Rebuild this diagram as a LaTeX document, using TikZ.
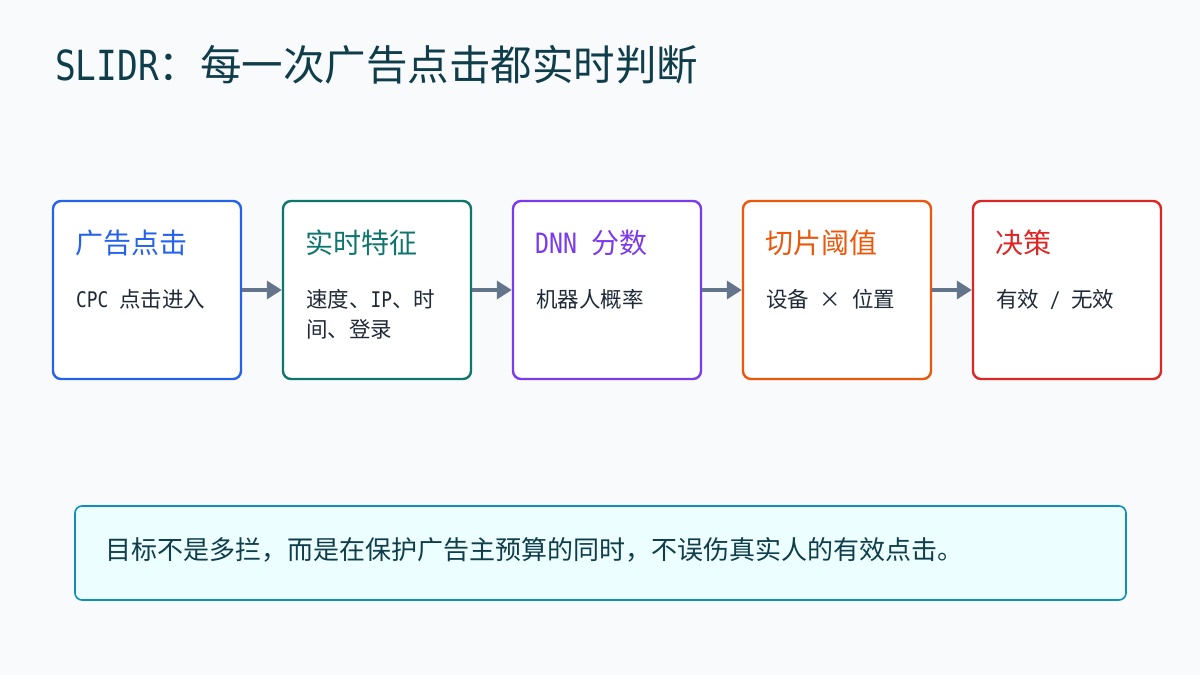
\documentclass[tikz,border=0pt]{standalone}
\usepackage{fontspec}
\setmainfont{Noto Sans CJK SC}
\newfontfamily\lat[FakeStretch=0.83]{DejaVu Sans Mono}
\usetikzlibrary{arrows.meta}
\definecolor{bg}{HTML}{F8FAFC}
\definecolor{titlec}{HTML}{0F3D4A}
\definecolor{bodyc}{HTML}{1F2937}
\definecolor{cblue}{HTML}{2563EB}
\definecolor{cteal}{HTML}{0F766E}
\definecolor{cpurple}{HTML}{7C3AED}
\definecolor{corange}{HTML}{EA580C}
\definecolor{cred}{HTML}{DC2626}
\definecolor{arrowc}{HTML}{64748B}
\definecolor{notefill}{HTML}{ECFEFF}
\definecolor{noteline}{HTML}{0E91B2}
\tikzset{
  card/.style={draw=#1, line width=2.4pt, rounded corners=8pt, fill=white, minimum width=188pt, minimum height=178pt, inner sep=0pt},
  head/.style={anchor=base west, text=#1, font=\fontsize{28}{34}\selectfont, inner sep=0pt},
  bodytxt/.style={anchor=north west, text=bodyc, font=\fontsize{21.5}{30}\selectfont, inner sep=0pt, align=left},
  flow/.style={draw=arrowc, line width=3.5pt, -{Triangle[length=15pt,width=18pt]}},
}
\begin{document}
\begin{tikzpicture}[x=1pt,y=-1pt]
\fill[bg] (0,0) rectangle (1200,675);
\useasboundingbox (0,0) rectangle (1200,675);
\node[anchor=base west, text=titlec, font=\fontsize{41.5}{48}\selectfont, inner sep=0pt] (title) at (55,80) {{\lat SLIDR}：每一次广告点击都实时判断};

\node[card=cblue] (b1) at (147,290) {};
\node[card=cteal] (b2) at (377,290) {};
\node[card=cpurple] (b3) at (607,290) {};
\node[card=corange] (b4) at (837,290) {};
\node[card=cred] (b5) at (1067,290) {};

\node[head=cblue] (h1) at (75,253.5) {广告点击};
\node[head=cteal] (h2) at (305,253.5) {实时特征};
\node[head=cpurple] (h3) at (535,253.5) {{\lat DNN }分数};
\node[head=corange] (h4) at (765,253.5) {切片阈值};
\node[head=cred] (h5) at (995,253.5) {决策};

\node[bodytxt] (t1) at (76,289) {{\lat CPC }点击进入};
\node[bodytxt] (t2) at (306,289) {速度、{\lat IP}、时\\间、登录};
\node[bodytxt] (t3) at (536,289) {机器人概率};
\node[bodytxt] (t4) at (766,289) {设备{\lat\ }\makebox[1em]{×}{\lat\ }位置};
\node[bodytxt] (t5) at (996,289) {有效{\lat\ /\ }无效};

\draw[flow] (b1.east) -- (b2.west);
\draw[flow] (b2.east) -- (b3.west);
\draw[flow] (b3.east) -- (b4.west);
\draw[flow] (b4.east) -- (b5.west);

\node[draw=noteline, fill=notefill, line width=1.6pt, rounded corners=7pt, minimum width=1051pt, minimum height=94pt, inner sep=0pt] (note) at (600.5,553) {};
\node[anchor=base west, text=titlec, font=\fontsize{26}{30}\selectfont, inner sep=0pt] (notetxt) at (105,559) {目标不是多拦，而是在保护广告主预算的同时，不误伤真实人的有效点击。};
\end{tikzpicture}
\end{document}
